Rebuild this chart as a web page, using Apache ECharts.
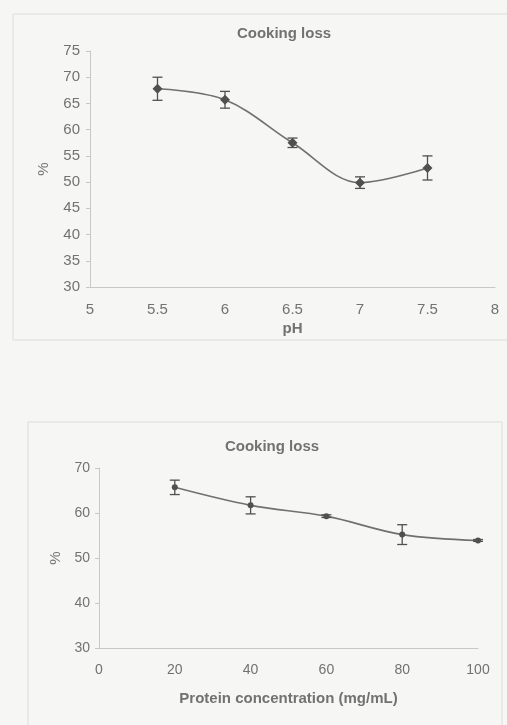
<!DOCTYPE html>
<html>
<head>
<meta charset="utf-8">
<title>Cooking loss</title>
<script src="https://cdn.jsdelivr.net/npm/echarts@6/dist/echarts.min.js"></script>
<style>
  html, body { margin: 0; padding: 0; background: #f6f6f4; }
  #chart { width: 507px; height: 725px; }
</style>
</head>
<body>
<div id="chart"></div>
<script>
// Cooking loss vs pH
const phValues = [5.5, 6, 6.5, 7, 7.5];
const phLoss = [67.8, 65.7, 57.5, 49.9, 52.7];
const phErr = [2.2, 1.6, 0.9, 1.1, 2.3];

// Cooking loss vs protein concentration
const concValues = [20, 40, 60, 80, 100];
const concLoss = [65.7, 61.7, 59.3, 55.2, 53.9];
const concErr = [1.6, 1.9, 0.3, 2.2, 0.2];

const chartTitle = 'Cooking loss';
const phAxisName = 'pH';
const concAxisName = 'Protein concentration (mg/mL)';
const yAxisName = '%';

const textColor = '#727272';
const axisColor = '#c8c8c8';
const lineColor = '#707070';
const markColor = '#505050';
const font = '"Liberation Sans", Arial, sans-serif';

function pairs(xs, ys) { return xs.map((x, i) => [x, ys[i]]); }
function errRows(xs, ys, es) { return xs.map((x, i) => [x, ys[i] - es[i], ys[i] + es[i]]); }

// vertical whisker with caps at both ends
function renderErr(params, api) {
  const x = api.value(0);
  const lo = api.coord([x, api.value(1)]);
  const hi = api.coord([x, api.value(2)]);
  const half = 5;
  const style = { stroke: markColor, lineWidth: 1.3 };
  return {
    type: 'group',
    children: [
      { type: 'line', shape: { x1: lo[0], y1: lo[1], x2: hi[0], y2: hi[1] }, style },
      { type: 'line', shape: { x1: lo[0] - half, y1: lo[1], x2: lo[0] + half, y2: lo[1] }, style },
      { type: 'line', shape: { x1: hi[0] - half, y1: hi[1], x2: hi[0] + half, y2: hi[1] }, style }
    ]
  };
}

function labelStyle(size, margin) {
  return { color: textColor, fontFamily: font, fontSize: size, margin: margin };
}

const axisCommon = {
  axisLine: { show: true, lineStyle: { color: axisColor, width: 1 } },
  axisTick: { show: true, length: 4, lineStyle: { color: axisColor } },
  splitLine: { show: false },
  nameTextStyle: { color: textColor, fontFamily: font, fontSize: 15, fontWeight: 'bold' }
};
const yNameStyle = { color: textColor, fontFamily: font, fontSize: 15 };

const chart = echarts.init(document.getElementById('chart'), null, { renderer: 'canvas' });
chart.setOption({
  backgroundColor: '#f6f6f4',
  animation: false,
  graphic: [
    { type: 'rect', shape: { x: 13, y: 14, width: 500, height: 326 },
      style: { fill: 'none', stroke: '#dcdcdc', lineWidth: 1 }, silent: true },
    { type: 'rect', shape: { x: 28, y: 422, width: 474, height: 320 },
      style: { fill: 'none', stroke: '#dcdcdc', lineWidth: 1 }, silent: true }
  ],
  title: [
    { text: chartTitle, left: 279, top: 21, textAlign: 'center',
      textStyle: { color: textColor, fontFamily: font, fontSize: 15, fontWeight: 'bold' } },
    { text: chartTitle, left: 267, top: 434, textAlign: 'center',
      textStyle: { color: textColor, fontFamily: font, fontSize: 15, fontWeight: 'bold' } }
  ],
  grid: [
    { left: 90, right: 12, top: 51, height: 236 },
    { left: 99, right: 29, top: 468, height: 180 }
  ],
  xAxis: [
    Object.assign({}, axisCommon, {
      gridIndex: 0, type: 'value', min: 5, max: 8, interval: 0.5,
      axisTick: { show: false },
      axisLabel: labelStyle(15, 15),
      name: phAxisName, nameLocation: 'middle', nameGap: 34
    }),
    Object.assign({}, axisCommon, {
      gridIndex: 1, type: 'value', min: 0, max: 100, interval: 20,
      axisTick: { show: false },
      axisLabel: labelStyle(14, 15),
      name: concAxisName, nameLocation: 'middle', nameGap: 43
    })
  ],
  yAxis: [
    Object.assign({}, axisCommon, {
      gridIndex: 0, type: 'value', min: 30, max: 75, interval: 5,
      axisLabel: labelStyle(15, 10),
      name: yAxisName, nameLocation: 'middle', nameGap: 39, nameTextStyle: yNameStyle
    }),
    Object.assign({}, axisCommon, {
      gridIndex: 1, type: 'value', min: 30, max: 70, interval: 10,
      axisLabel: labelStyle(14, 9),
      name: yAxisName, nameLocation: 'middle', nameGap: 35, nameTextStyle: yNameStyle
    })
  ],
  series: [
    {
      type: 'line', xAxisIndex: 0, yAxisIndex: 0, smooth: 0.35,
      data: pairs(phValues, phLoss),
      symbol: 'diamond', symbolSize: 10,
      lineStyle: { color: lineColor, width: 1.6 },
      itemStyle: { color: markColor }, z: 3
    },
    {
      type: 'custom', xAxisIndex: 0, yAxisIndex: 0,
      data: errRows(phValues, phLoss, phErr),
      renderItem: renderErr, z: 4
    },
    {
      type: 'line', xAxisIndex: 1, yAxisIndex: 1, smooth: 0.35,
      data: pairs(concValues, concLoss),
      symbol: 'circle', symbolSize: 6,
      lineStyle: { color: lineColor, width: 1.6 },
      itemStyle: { color: markColor }, z: 3
    },
    {
      type: 'custom', xAxisIndex: 1, yAxisIndex: 1,
      data: errRows(concValues, concLoss, concErr),
      renderItem: renderErr, z: 4
    }
  ]
});
</script>
</body>
</html>
